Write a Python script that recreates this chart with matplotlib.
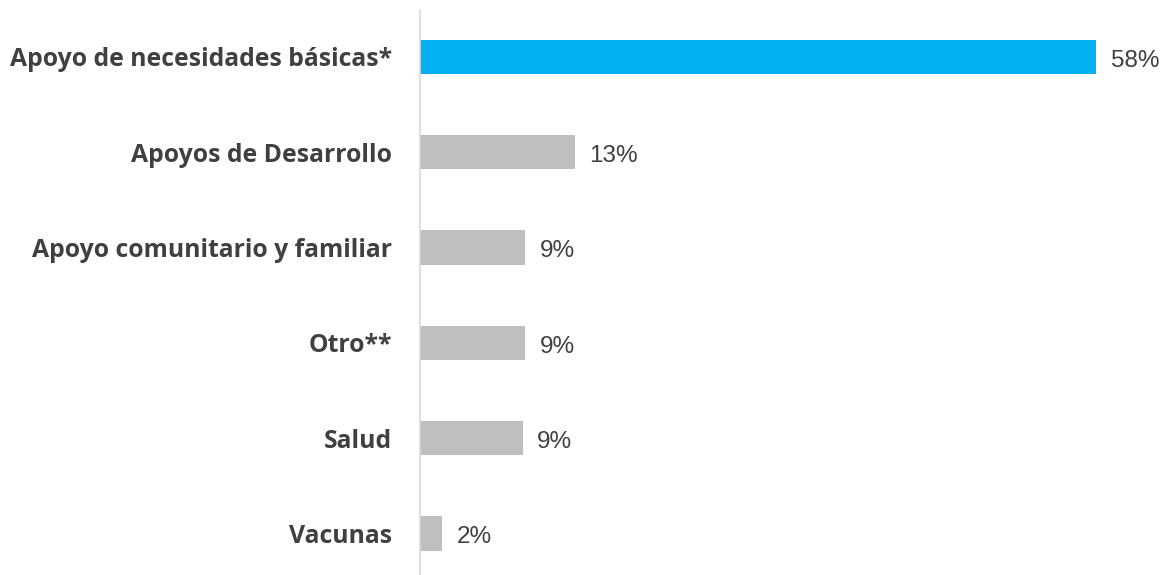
import matplotlib
matplotlib.use("Agg")
import matplotlib.pyplot as plt

categories = ["Apoyo de necesidades básicas*", "Apoyos de Desarrollo",
              "Apoyo comunitario y familiar", "Otro**", "Salud", "Vacunas"]
values = [58, 13.3, 9, 9, 8.8, 1.9]
value_labels = ["58%", "13%", "9%", "9%", "9%", "2%"]
colors = ["#00B0F0", "#BFBFBF", "#BFBFBF", "#BFBFBF", "#BFBFBF", "#BFBFBF"]

fig = plt.figure(figsize=(11.63, 5.75), dpi=100)
ax = fig.add_axes([420 / 1163, 0, 1 - 420 / 1163, 1 - 10 / 575])

pos = list(range(len(categories)))
ax.barh(pos, values, height=0.36, color=colors)

for p, v, lab in zip(pos, values, value_labels):
    ax.text(v + 1.25, p + 0.04, lab, va="center", ha="left",
            fontsize=17.5, color="#404040", family="Liberation Sans")

ax.set_yticks(pos)
ax.set_yticklabels(categories, fontsize=17.8, fontweight="bold",
                   color="#404040", family="Open Sans")
ax.tick_params(axis="y", length=0, pad=20)
ax.set_xticks([])
ax.set_xlim(0, 63.75)
ax.set_ylim(5.435, -0.493)

for s in ["top", "right", "bottom"]:
    ax.spines[s].set_visible(False)
ax.spines["left"].set_color("#D9D9D9")
ax.spines["left"].set_linewidth(1.2)

fig.savefig("out.png", dpi=100)
